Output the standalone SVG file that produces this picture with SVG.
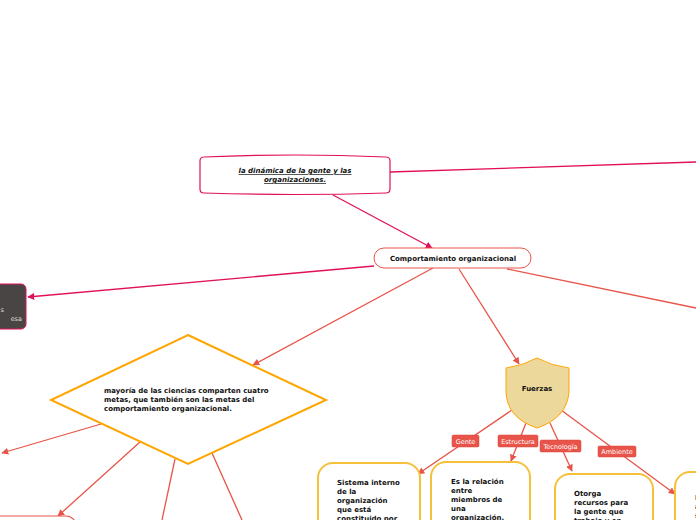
<svg xmlns="http://www.w3.org/2000/svg" width="696" height="520" viewBox="0 0 696 520">
<defs>
<marker id="ac" viewBox="0 0 10 10" refX="9" refY="5" markerWidth="7" markerHeight="7" markerUnits="userSpaceOnUse" orient="auto"><path d="M0,0 L10,5 L0,10 z" fill="#e0105a"/></marker>
<marker id="ar" viewBox="0 0 10 10" refX="9" refY="5" markerWidth="7" markerHeight="7" markerUnits="userSpaceOnUse" orient="auto"><path d="M0,0 L10,5 L0,10 z" fill="#e8544a"/></marker>
</defs>
<style>
text{font-family:"DejaVu Sans",Verdana,sans-serif;font-size:7px;font-weight:bold;fill:#111}
.c{stroke:#e0105a;stroke-width:1.3;fill:none}
.r{stroke:#e8544a;stroke-width:1.3;fill:none}
.lbl rect{fill:#e8544a;stroke:#d84438;stroke-width:0.5}
.lbl text{fill:#fff;font-weight:normal;font-size:6.5px;text-anchor:middle}
.y{fill:#fff;stroke:#f5c03a;stroke-width:2}
</style>
<rect width="696" height="520" fill="#fff"/>
<g id="connectors">
<path class="c" d="M390,172 L696,162"/>
<path class="c" d="M333,195 L432,248" marker-end="url(#ac)"/>
<path class="c" d="M374,266 L28,297" marker-end="url(#ac)"/>
<path class="r" d="M433,268 L253,365" marker-end="url(#ar)"/>
<path class="r" d="M459,269 L519,364" marker-end="url(#ar)"/>
<path class="r" d="M507,269 L696,308"/>
<path class="r" d="M101,424 L2,453" marker-end="url(#ar)"/>
<path class="r" d="M140,442 L58,516" marker-end="url(#ar)"/>
<path class="r" d="M175,459 L162,520"/>
<path class="r" d="M212,453 L242,520"/>
<path class="r" d="M512,410 L418,474" marker-end="url(#ar)"/>
<path class="r" d="M526,423 L511,461" marker-end="url(#ar)"/>
<path class="r" d="M550,423 L572,471" marker-end="url(#ar)"/>
<path class="r" d="M561,410 L675,494" marker-end="url(#ar)"/>
</g>
<g id="n-dinamica">
<path d="M204,157 Q295,153 386,157 Q390,157 390,161 L390,189 Q390,193 386,193 Q295,196 204,193 Q200,193 200,189 L200,161 Q200,157 204,157 Z" fill="#fff" stroke="#e0105a" stroke-width="1.2"/>
<text x="295" y="173" text-anchor="middle" font-style="italic" text-decoration="underline">la dinámica de la gente y las</text>
<text x="295" y="182" text-anchor="middle" font-style="italic" text-decoration="underline">organizaciones.</text>
</g>
<g id="n-comportamiento">
<rect x="374" y="248" width="157" height="20" rx="10" fill="#fff" stroke="#e8544a" stroke-width="1"/>
<text x="453" y="261" text-anchor="middle">Comportamiento organizacional</text>
</g>
<g id="n-dark">
<rect x="-10" y="284" width="36" height="45" rx="5" fill="#4a4545" stroke="#e0105a" stroke-width="1"/>
<text x="4" y="312" text-anchor="end" style="fill:#ddd;font-weight:normal;font-size:6.5px">s</text>
<text x="22" y="321" text-anchor="end" style="fill:#ddd;font-weight:normal;font-size:6.5px">esa</text>
</g>
<g id="n-metas">
<path d="M188,335 L326,400 L188,464 L51,400 Z" fill="#fff" stroke="#ffa500" stroke-width="2"/>
<text x="104" y="393">mayoría de las ciencias comparten cuatro</text>
<text x="104" y="402">metas, que también son las metas del</text>
<text x="104" y="411">comportamiento organizacional.</text>
</g>
<g id="n-bottomleft">
<rect x="-20" y="516" width="96" height="30" rx="10" fill="#fff" stroke="#e8544a" stroke-width="1.2"/>
</g>
<g id="n-fuerzas">
<path d="M506,368 Q522,366 537,358 Q552,366 569,368 L569,392 Q567,418 537,428 Q507,418 506,392 Z" fill="#edd89c" stroke="#ffa500" stroke-width="1"/>
<text x="537" y="391" text-anchor="middle">Fuerzas</text>
</g>
<g id="lbl-gente" class="lbl"><rect x="452" y="435" width="27" height="12" rx="1.5"/><text x="465.5" y="443.5">Gente</text></g>
<g id="lbl-estructura" class="lbl"><rect x="498" y="435" width="40" height="12" rx="1.5"/><text x="518" y="443.5">Estructura</text></g>
<g id="lbl-tecnologia" class="lbl"><rect x="540" y="440" width="41" height="12" rx="1.5"/><text x="560.5" y="448.5">Tecnología</text></g>
<g id="lbl-ambiente" class="lbl"><rect x="598" y="446" width="38" height="11" rx="1.5"/><text x="617" y="454">Ambiente</text></g>
<g id="n-gente">
<rect class="y" x="318" y="463" width="102" height="80" rx="15"/>
<text x="337" y="485">Sistema interno</text>
<text x="337" y="494">de la</text>
<text x="337" y="503">organización</text>
<text x="337" y="512">que está</text>
<text x="337" y="521">constituido por</text>
</g>
<g id="n-estructura">
<rect class="y" x="431" y="462" width="99" height="80" rx="15"/>
<text x="451" y="484">Es la relación</text>
<text x="451" y="493">entre</text>
<text x="451" y="502">miembros de</text>
<text x="451" y="511">una</text>
<text x="451" y="520">organización.</text>
</g>
<g id="n-tecnologia">
<rect class="y" x="555" y="474" width="98" height="70" rx="15"/>
<text x="574" y="496">Otorga</text>
<text x="574" y="505">recursos para</text>
<text x="574" y="514">la gente que</text>
<text x="574" y="523">trabaja y en</text>
</g>
<g id="n-ambiente">
<rect class="y" x="675" y="472" width="60" height="70" rx="15"/>
<text x="695" y="500">E</text>
<text x="695" y="509">a</text>
<text x="695" y="518">s</text>
</g>
</svg>
